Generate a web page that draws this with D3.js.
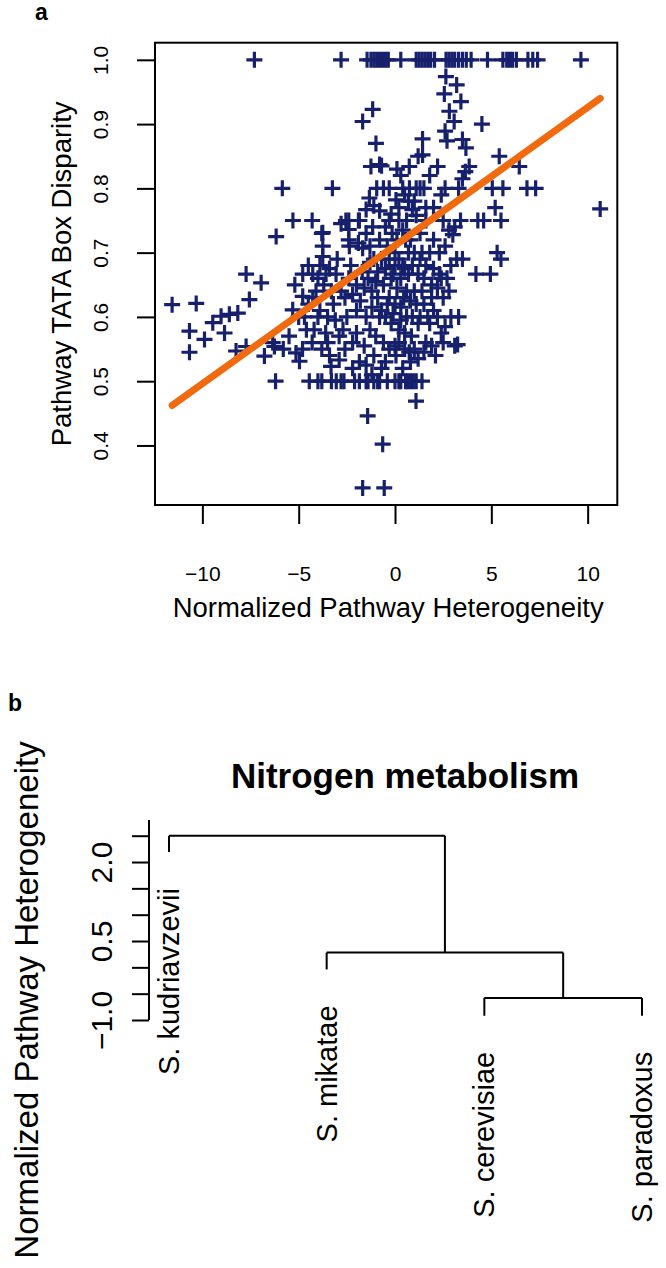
<!DOCTYPE html>
<html>
<head>
<meta charset="utf-8">
<script src="https://cdn.jsdelivr.net/npm/d3@7"></script>
<style>
  html, body { margin: 0; padding: 0; background: #fff; }
  svg { display: block; font-family: "Liberation Sans", Arial, Helvetica, sans-serif; }
</style>
</head>
<body>
<svg id="chart" width="666" height="1268"></svg>
<script>
// ---------------- Panel a data ----------------
// points lying on the disparity = 1.0 row
const xAtOne = [-7.3,-2.8,-1.45,-1.25,-1.1,-0.95,-0.8,-0.65,-0.5,-0.35,0.3,1.1,1.25,1.4,1.55,1.7,1.85,2.05,
  2.65,2.8,2.95,3.1,3.3,3.5,3.7,3.95,4.8,5.6,5.8,5.95,6.1,6.3,6.9,7.15,7.4,9.65];
// points on the disparity = 0.8 row
const xAtFourFifths = [-5.85,-3.25,-0.95,-0.6,0.4,0.75,1.1,1.5,2.6,3.3,5.05,5.6,6.85,7.3];
// points on the disparity = 0.75 row
const xAtThreeQuarters = [-5.3,-4.3,-2.55,-2.4,-1.9,-1.85,-0.3,0.2,1.6,2.5,3.4,4.3,4.6,5.5];
// points on the disparity = 2/3 row
const xAtTwoThirds = [-7.73,-4.79,-4.27,-3.58,-3.06,-0.1,0.7,1.2,2.3,4.2,4.95];
// points on the disparity = 0.5 row
const xAtHalf = [-6.2,-4.45,-4.0,-3.8,-3.3,-3.05,-2.8,-2.65,-2.1,-1.85,-1.5,-1.4,-1.1,-0.9,-0.8,-0.4,0.0,0.2,0.3,
  0.55,0.65,0.8,0.95,1.1,1.4];
// remaining points [heterogeneity, disparity]
const scatteredPoints = [
  [-1.16,0.923],[-1.68,0.904],[-0.99,0.87],[-1.25,0.834],[-0.8,0.837],
  [2.64,0.974],[3.2,0.961],[2.56,0.947],[3.42,0.935],[2.82,0.92],[3.07,0.904],[4.51,0.9],[2.6,0.889],
  [1.43,0.877],[2.7,0.874],[3.5,0.876],[3.68,0.863],[1.43,0.852],[5.41,0.85],[0.74,0.834],[2.21,0.834],
  [3.85,0.834],[6.45,0.834],[0.1,0.83],[1.2,0.85],[3.65,0.826],[-0.7,0.835],
  [-1.33,0.785],[-1.5,0.767],[-1.1,0.773],[0.05,0.782],[0.5,0.79],[1.0,0.78],[0.9,0.767],[1.1,0.758],
  [2.0,0.77],[5.2,0.77],[10.65,0.768],[3.5,0.815],[2.4,0.79],[1.8,0.82],
  [-6.17,0.725],[-3.75,0.731],[-2.37,0.71],[-1.68,0.707],[-3.8,0.73],[-3.75,0.71],[-2.4,0.72],[-1.9,0.715],
  [-1.3,0.71],[2.8,0.735],[3.1,0.74],[3.0,0.728],[-2.8,0.745],[-2.4,0.736],
  [-0.8,0.72],[-0.5,0.74],[0.4,0.735],[0.8,0.72],[1.3,0.73],[-1.1,0.69],[-0.7,0.69],
  [-1.16,0.74],[-0.8,0.765],[-1.5,0.73],[-0.4,0.71],[0.1,0.72],[-0.2,0.76],[0.6,0.75],
  [-3.75,0.694],[-3.9,0.68],[-3.4,0.675],[-3.0,0.69],[-6.95,0.653],[3.5,0.69],[3.2,0.69],[5.3,0.70],[5.5,0.69],
  [-0.3,0.69],[0.0,0.68],[0.2,0.69],[0.5,0.675],[0.3,0.66],[-0.5,0.675],
  [1.3,0.69],[1.6,0.68],[2.0,0.675],[1.5,0.66],[1.9,0.65],[2.2,0.645],
  [-2.4,0.66],[-2.0,0.65],[-1.6,0.645],[-1.2,0.64],[-0.9,0.63],[-1.8,0.625],[-2.2,0.635],[-1.4,0.66],[-1.0,0.655],
  [-0.3,0.63],[0.0,0.62],[0.3,0.615],[0.6,0.6],[0.9,0.6],[1.2,0.59],[0.2,0.58],[0.5,0.575],[-0.2,0.59],
  [0.8,0.625],[1.1,0.62],[-0.1,0.605],[0.6,0.64],[0.1,0.645],
  [1.8,0.59],[2.4,0.575],[3.1,0.555],[2.1,0.54],[3.25,0.557],
  [-3.9,0.61],[-3.5,0.6],[-3.1,0.595],[-2.7,0.58],[-3.6,0.575],[-2.5,0.6],[-3.2,0.62],[-2.9,0.57],
  [-3.4,0.54],[-2.9,0.533],[-1.85,0.53],[0.74,0.545],[0.05,0.54],[-3.32,0.523],
  [-5.31,0.611],[-4.79,0.632],[-4.27,0.63],[-7.56,0.627],[-11.57,0.619],[-10.32,0.621],[-9.03,0.601],
  [-8.6,0.604],[-8.16,0.606],[-9.46,0.591],[-10.67,0.578],[-8.85,0.575],[-9.89,0.565],[-7.73,0.554],
  [-6.35,0.56],[-10.67,0.545],[-8.25,0.547],[-6.78,0.539],[-6.26,0.554],[-5.14,0.544],[-4.96,0.531],
  [-5.0,0.6],[-4.6,0.58],[-4.3,0.56],[-4.0,0.6],[-4.5,0.62],[-5.5,0.57],[-5.8,0.55],[-4.8,0.55],[-3.8,0.55],
  [-4.1,0.64],[-5.2,0.65],
  [-1.0,0.57],[-0.6,0.56],[-0.3,0.55],[0.2,0.56],[-1.3,0.58],[-0.8,0.6],
  [1.5,0.62],[2.0,0.61],[2.5,0.63],[2.7,0.66],[2.9,0.6],[2.3,0.7],[2.6,0.71],[1.8,0.7],[2.6,0.585],[3.3,0.6],
  [0.0,0.555],[0.5,0.55],[1.0,0.55],[1.5,0.545],[0.8,0.53],[1.2,0.535],[-0.5,0.53],[1.6,0.56],
  [-1.42,0.446],[-1.68,0.334],[-0.64,0.402],[-0.56,0.334],[1.09,0.469],
  [-0.6,0.65],[-0.2,0.66],[0.4,0.68],[0.9,0.68],[-0.9,0.67],[0.7,0.7],[0.0,0.7],[-0.4,0.62],[0.45,0.63],
  [1.0,0.64],[-0.7,0.61],[0.3,0.595],[-0.5,0.6],[0.85,0.57],[1.3,0.6],[1.4,0.64],[1.0,0.7],[0.55,0.72],[-0.15,0.73],
  [-2.6,0.63],[-2.0,0.61],[-1.5,0.6],[-1.2,0.615],[-2.8,0.64],[-2.3,0.68],[-1.7,0.67],[-1.3,0.685],[-2.6,0.55],
  [-2.2,0.56],[-1.6,0.555],[-1.1,0.54],[-2.0,0.575],[-1.5,0.525],
  [1.9,0.63],[2.2,0.6],[1.7,0.6],[2.4,0.66],[2.9,0.68],[1.4,0.7],[2.0,0.72],[2.5,0.56],[1.9,0.555],[2.8,0.64],
  [-4.5,0.68],[-4.0,0.66],[-3.3,0.64],[-3.7,0.65],[-4.2,0.58],[-3.5,0.56],[-4.7,0.6],
  [-0.3,0.8],[0.3,0.82],[1.3,0.8],[0.2,0.77],[0.7,0.78],[1.6,0.77],
  [-1.2,0.51],[-0.7,0.52],[0.4,0.52],[-2.2,0.52]
];
// linear fit of disparity on heterogeneity
const fitIntercept = 0.711;
const fitSlope = 0.0215;
const xTicksA = [-10, -5, 0, 5, 10];
const yTicksA = [0.4, 0.5, 0.6, 0.7, 0.8, 0.9, 1.0];

// ---------------- Panel b data ----------------
const leafNames = ["S. kudriavzevii", "S. mikatae", "S. cerevisiae", "S. paradoxus"];
const leafEnds = [2.19, -0.04, -0.92, -0.92];          // bottom of each hanging leaf
// hclust-style merges: negative = leaf (1-based), positive = earlier merge
const merges = [[-3, -4], [-2, 1], [-1, 2]];
const mergeHeights = [-0.58, 0.28, 2.5];
const yTicksB = [-1, -0.5, 0, 0.5, 1, 1.5, 2, 2.5];
const yTickLabelsB = [-1, 0.5, 2];

// ---------------- Build ----------------
(function () {
const svg = d3.select("#chart");
const navy = "#16206c";
const orange = "#f26a0e";
const minus = v => (v < 0 ? "\u2212" + Math.abs(v) : String(v));

const pts = [];
xAtOne.forEach(v => pts.push([v, 1.0]));
xAtFourFifths.forEach(v => pts.push([v, 0.8]));
xAtThreeQuarters.forEach(v => pts.push([v, 0.75]));
xAtTwoThirds.forEach(v => pts.push([v, 2 / 3]));
xAtHalf.forEach(v => pts.push([v, 0.5]));
scatteredPoints.forEach(p => pts.push(p));

const pL = 155, pR = 617.3, pT = 42.7, pB = 505;
const xe = d3.extent(pts, d => d[0]);
const ye = d3.extent(pts, d => d[1]);
const padX = (xe[1] - xe[0]) * 0.04, padY = (ye[1] - ye[0]) * 0.04;
const x = d3.scaleLinear().domain([xe[0] - padX, xe[1] + padX]).range([pL, pR]);
const y = d3.scaleLinear().domain([ye[0] - padY, ye[1] + padY]).range([pB, pT]);

const gA = svg.append("g");
gA.append("text").attr("x", 35).attr("y", 20).attr("font-size", 23).attr("font-weight", "bold").text("a");

const half = 8;
gA.append("g").selectAll("path").data(pts).join("path")
  .attr("d", d => `M${x(d[0]) - half},${y(d[1])}H${x(d[0]) + half}M${x(d[0])},${y(d[1]) - half}V${y(d[1]) + half}`)
  .attr("stroke", navy).attr("stroke-width", 3.2).attr("fill", "none");

gA.append("line")
  .attr("x1", x(xe[0])).attr("y1", y(fitIntercept + fitSlope * xe[0]))
  .attr("x2", x(xe[1])).attr("y2", y(fitIntercept + fitSlope * xe[1]))
  .attr("stroke", orange).attr("stroke-width", 7).attr("stroke-linecap", "round");

gA.append("rect").attr("x", pL).attr("y", pT).attr("width", pR - pL).attr("height", pB - pT)
  .attr("fill", "none").attr("stroke", "#000").attr("stroke-width", 2);

const xAxisG = gA.append("g").attr("transform", `translate(0,${pB})`)
  .call(d3.axisBottom(x).tickValues(xTicksA).tickSize(19).tickPadding(42).tickFormat(minus));
xAxisG.select(".domain").remove();
xAxisG.selectAll("line").attr("stroke", "#000").attr("stroke-width", 2);
xAxisG.selectAll("text").attr("font-size", 21).attr("fill", "#000").attr("font-family", null);

const yAxisG = gA.append("g").attr("transform", `translate(${pL},0)`)
  .call(d3.axisLeft(y).tickValues(yTicksA).tickSize(18).tickFormat(d3.format(".1f")));
yAxisG.select(".domain").remove();
yAxisG.selectAll("line").attr("stroke", "#000").attr("stroke-width", 2);
yAxisG.selectAll("text").attr("font-size", 21).attr("fill", "#000").attr("font-family", null)
  .attr("x", 0).attr("dy", 0).attr("text-anchor", "middle")
  .attr("transform", "translate(-47,0) rotate(-90)");

gA.append("text").attr("x", (pL + pR) / 2 + 2).attr("y", 617).attr("text-anchor", "middle")
  .attr("font-size", 27.5).text("Normalized Pathway Heterogeneity");
gA.append("text").attr("transform", `translate(71,${(pT + pB) / 2}) rotate(-90)`)
  .attr("text-anchor", "middle").attr("font-size", 27.5).text("Pathway TATA Box Disparity");

// ---------------- Panel b ----------------
const gB = svg.append("g");
gB.append("text").attr("x", 8).attr("y", 711).attr("font-size", 23).attr("font-weight", "bold").text("b");
gB.append("text").attr("x", 405).attr("y", 788).attr("text-anchor", "middle")
  .attr("font-size", 35).attr("font-weight", "bold").text("Nitrogen metabolism");

const xb = d3.scaleLinear().domain([1, leafNames.length]).range([169, 642]);
const yb = d3.scaleLinear().domain([-1, 2.5]).range([1020, 835.7]);

const nodeX = [], nodeH = [];
const childPos = c => c < 0 ? { x: xb(-c), h: leafEnds[-c - 1] } : { x: nodeX[c - 1], h: nodeH[c - 1] };
const segs = [];
merges.forEach((m, i) => {
  const a = childPos(m[0]), b = childPos(m[1]);
  const h = mergeHeights[i];
  nodeX.push((a.x + b.x) / 2); nodeH.push(h);
  segs.push([a.x, yb(h), b.x, yb(h)]);
  segs.push([a.x, yb(h), a.x, yb(a.h)]);
  segs.push([b.x, yb(h), b.x, yb(b.h)]);
});
gB.append("g").selectAll("line").data(segs).join("line")
  .attr("x1", d => d[0]).attr("y1", d => d[1]).attr("x2", d => d[2]).attr("y2", d => d[3])
  .attr("stroke", "#000").attr("stroke-width", 2);

gB.append("g").selectAll("text").data(leafNames).join("text")
  .attr("transform", (d, i) => `translate(${xb(i + 1)},${yb(leafEnds[i]) + 36}) rotate(-90)`)
  .attr("text-anchor", "end").attr("dy", "0.35em").attr("font-size", 29).text(d => d);

const fmtB = d => (d < 0 ? "\u2212" : "") + Math.abs(d).toFixed(1);
const yAxisB = gB.append("g").attr("transform", "translate(149,0)")
  .call(d3.axisLeft(yb).tickValues(yTicksB).tickSize(17).tickSizeOuter(0)
    .tickFormat(d => yTickLabelsB.includes(d) ? fmtB(d) : ""));
yAxisB.select(".domain").attr("stroke", "#000").attr("stroke-width", 2)
  .attr("d", `M0,${yb(-1)}V820`);
yAxisB.selectAll("line").attr("stroke", "#000").attr("stroke-width", 2);
yAxisB.selectAll("text").attr("font-size", 30).attr("fill", "#000").attr("font-family", null)
  .attr("x", 0).attr("dy", 0).attr("text-anchor", "middle")
  .attr("transform", "translate(-37,0) rotate(-90)");

gB.append("text").attr("transform", "translate(38,1000) rotate(-90)")
  .attr("text-anchor", "middle").attr("font-size", 33).text("Normalized Pathway Heterogeneity");
})();
</script>
</body>
</html>
